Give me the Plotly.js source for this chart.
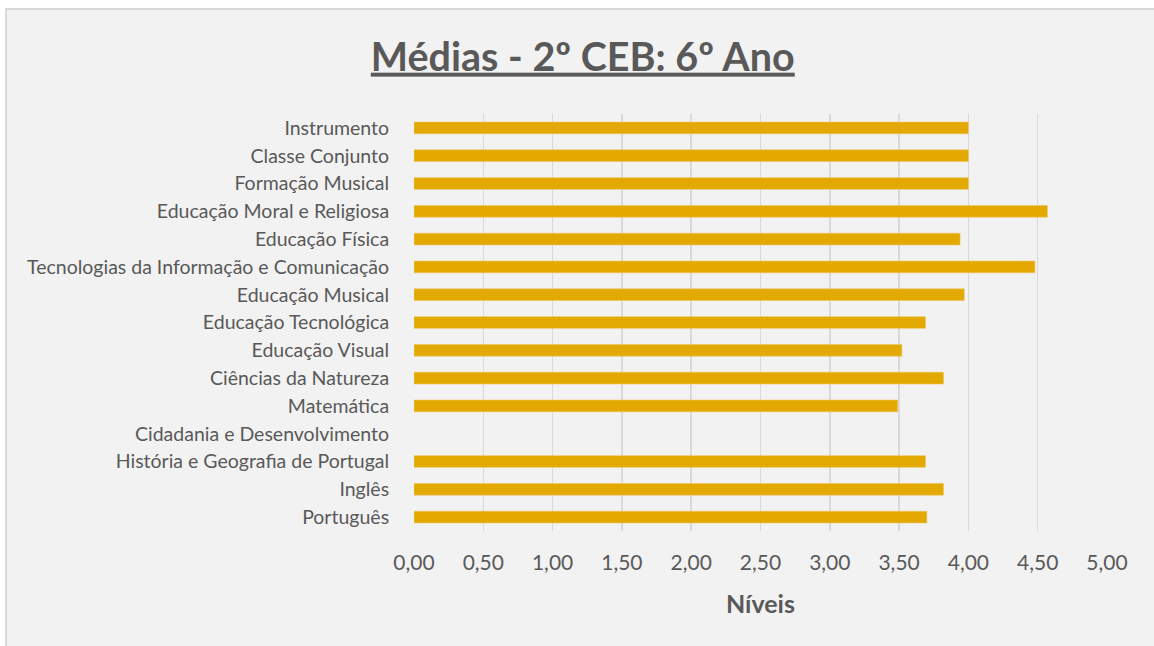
<!DOCTYPE html>
<html>
<head>
<meta charset="utf-8">
<script src="https://cdn.plot.ly/plotly-3.0.1.min.js"></script>
<style>
html,body{margin:0;padding:0;background:#ffffff;width:1154px;height:646px;overflow:hidden;}
#frame{position:absolute;left:5px;top:8px;width:1160px;height:650px;background:#f2f2f2;border:2px solid #d9d9d9;box-sizing:border-box;}
#chart{position:absolute;left:0;top:0;width:1154px;height:646px;}
</style>
</head>
<body>
<div id="frame"></div>
<div id="chart"></div>
<script>
const subjects = [
  "Português",
  "Inglês",
  "História e Geografia de Portugal",
  "Cidadania e Desenvolvimento",
  "Matemática",
  "Ciências da Natureza",
  "Educação Visual",
  "Educação Tecnológica",
  "Educação Musical",
  "Tecnologias da Informação e Comunicação",
  "Educação Física",
  "Educação Moral e Religiosa",
  "Formação Musical",
  "Classe Conjunto",
  "Instrumento"
];
const averages = [3.70, 3.82, 3.69, null, 3.49, 3.82, 3.52, 3.69, 3.97, 4.48, 3.94, 4.57, 4.00, 4.00, 4.00];
const tickValues = [0, 0.5, 1, 1.5, 2, 2.5, 3, 3.5, 4, 4.5, 5];
const tickLabels = ["0,00","0,50","1,00","1,50","2,00","2,50","3,00","3,50","4,00","4,50","5,00"];

const font = "Lato, 'Open Sans', sans-serif";
const data = [{
  type: 'bar',
  orientation: 'h',
  y: subjects,
  x: averages,
  marker: {color: '#e3a900', line: {color: '#edc55a', width: 0.6}},
  width: 0.42,
  hoverinfo: 'x+y'
}];
const layout = {
  width: 1154, height: 646,
  paper_bgcolor: 'rgba(0,0,0,0)',
  plot_bgcolor: 'rgba(0,0,0,0)',
  margin: {l: 414, r: 47, t: 114, b: 115},
  showlegend: false,
  title: {
    text: '<b><u>Médias - 2º CEB: 6º Ano</u></b>',
    font: {family: font, size: 39.5, color: '#595959'},
    x: 0.505, xanchor: 'center', y: 0.912, yanchor: 'middle'
  },
  xaxis: {
    range: [0, 5],
    tickvals: tickValues,
    ticktext: tickLabels,
    showgrid: true, gridcolor: '#d9d9d9', gridwidth: 1.5,
    zeroline: false, showline: false,
    ticks: 'outside', ticklen: 13, tickcolor: 'rgba(0,0,0,0)',
    tickfont: {family: font, size: 21, color: '#595959'},
    title: {text: '<b>Níveis</b>', font: {family: font, size: 25, color: '#595959'}, standoff: 22},
    fixedrange: true
  },
  yaxis: {
    type: 'category',
    categoryorder: 'array', categoryarray: subjects,
    showgrid: false, zeroline: false, showline: false,
    ticks: 'outside', ticklen: 20, tickcolor: 'rgba(0,0,0,0)',
    tickfont: {family: font, size: 19.5, color: '#595959'},
    fixedrange: true
  },
  bargap: 0.58
};
Plotly.newPlot('chart', data, layout, {displayModeBar: false, staticPlot: true});
</script>
</body>
</html>
